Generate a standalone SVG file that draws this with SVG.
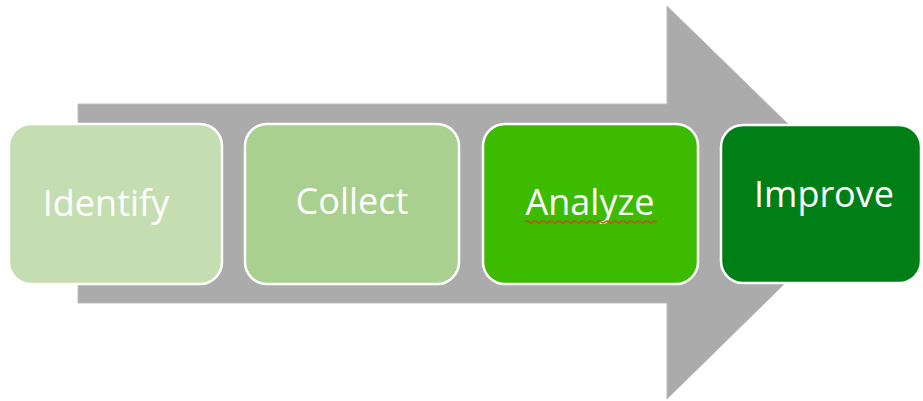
<svg xmlns="http://www.w3.org/2000/svg" width="923" height="401" viewBox="0 0 923 401">
<style>
.box{stroke:#ffffff;stroke-width:2.5}
.lbl{font-family:"Open Sans","Liberation Sans",sans-serif;font-size:36px;fill:#ffffff;text-anchor:middle}
</style>
<rect width="923" height="401" fill="#ffffff"/>
<g id="connectors">
<path d="M78,104 H667 V6 L868,202 L667,399 V303 H78 Z" fill="#ababab" stroke="#bdbdbd" stroke-width="1"/>
</g>
<g id="identify">
<rect class="box" x="9" y="124" width="213" height="160" rx="22" fill="#c4deb1"/>
<text class="lbl" x="106" y="216">Identify</text>
</g>
<g id="collect">
<rect class="box" x="245" y="124" width="214" height="160" rx="22" fill="#a9d08e"/>
<text class="lbl" x="352" y="214">Collect</text>
</g>
<g id="analyze">
<rect class="box" x="483" y="124" width="215" height="160" rx="22" fill="#3dbb00"/>
<text class="lbl" x="590" y="215">Analyze</text>
<path d="M525,222 q2,-2 4,0 t4,0 t4,0 t4,0 t4,0 t4,0 t4,0 t4,0 t4,0 t4,0 t4,0 t4,0 t4,0 t4,0 t4,0 t4,0 t4,0 t4,0 t4,0 t4,0 t4,0 t4,0 t4,0 t4,0 t4,0 t4,0 t4,0 t4,0 t4,0 t4,0 t4,0 t4,0 t4,0" fill="none" stroke="#d0442a" stroke-width="1.2"/>
</g>
<g id="improve">
<rect class="box" x="721" y="125" width="200" height="158" rx="22" fill="#007f17"/>
<text class="lbl" x="824" y="207">Improve</text>
</g>
</svg>
